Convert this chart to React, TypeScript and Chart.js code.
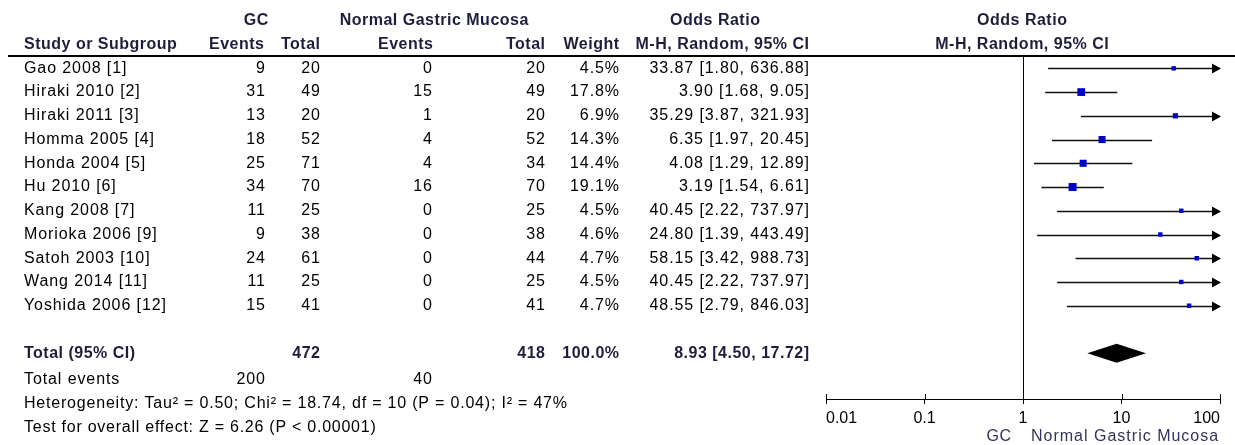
import React, { useEffect, useRef } from "react";
import { Chart, registerables } from "chart.js";

Chart.register(...registerables);

// ---- data ----
const studies = [
  "Gao 2008 [1]",
  "Hiraki 2010 [2]",
  "Hiraki 2011 [3]",
  "Homma 2005 [4]",
  "Honda 2004 [5]",
  "Hu 2010 [6]",
  "Kang 2008 [7]",
  "Morioka 2006 [9]",
  "Satoh 2003 [10]",
  "Wang 2014 [11]",
  "Yoshida 2006 [12]",
];
const gcEvents = [9, 31, 13, 18, 25, 34, 11, 9, 24, 11, 15];
const gcTotal = [20, 49, 20, 52, 71, 70, 25, 38, 61, 25, 41];
const ngmEvents = [0, 15, 1, 4, 4, 16, 0, 0, 0, 0, 0];
const ngmTotal = [20, 49, 20, 52, 34, 70, 25, 38, 44, 25, 41];
const weights = [4.5, 17.8, 6.9, 14.3, 14.4, 19.1, 4.5, 4.6, 4.7, 4.5, 4.7];
const oddsRatio = [33.87, 3.9, 35.29, 6.35, 4.08, 3.19, 40.45, 24.8, 58.15, 40.45, 48.55];
const ciLow = [1.8, 1.68, 3.87, 1.97, 1.29, 1.54, 2.22, 1.39, 3.42, 2.22, 2.79];
const ciHigh = [636.88, 9.05, 321.93, 20.45, 12.89, 6.61, 737.97, 443.49, 988.73, 737.97, 846.03];

const totalLabel = "Total (95% CI)";
const totalGcN = 472;
const totalNgmN = 418;
const totalWeight = 100.0;
const totalOR = [8.93, 4.5, 17.72]; // estimate, low, high
const totalEvents = [200, 40];
const heterogeneityText =
  "Heterogeneity: Tau\u00B2 = 0.50; Chi\u00B2 = 18.74, df = 10 (P = 0.04); I\u00B2 = 47%";
const overallText = "Test for overall effect: Z = 6.26 (P < 0.00001)";

const tickValues = [0.01, 0.1, 1, 10, 100];
const tickLabels = ["0.01", "0.1", "1", "10", "100"];
const favoursLeft = "GC";
const favoursRight = "Normal Gastric Mucosa";

const FONT = '"Liberation Sans", Arial, sans-serif';

function fmt2(v: number) {
  return v.toFixed(2);
}

const forestPlugin = {
  id: "forest",
  beforeDatasetsDraw(chart: any) {
    const { ctx, chartArea } = chart;
    const xs = chart.scales.x;
    const ys = chart.scales.y;
    ctx.save();
    // header rule
    ctx.strokeStyle = "#000";
    ctx.lineWidth = 2;
    ctx.beginPath();
    ctx.moveTo(8, chartArea.top);
    ctx.lineTo(1235, chartArea.top);
    ctx.stroke();
    // line of no effect
    const x1 = Math.round(xs.getPixelForValue(1)) + 0.5;
    ctx.lineWidth = 1;
    ctx.strokeStyle = "#000";
    ctx.beginPath();
    ctx.moveTo(x1, chartArea.top);
    ctx.lineTo(x1, chartArea.bottom);
    ctx.stroke();
    // upward tick halves
    tickValues.forEach((v) => {
      const px = Math.round(xs.getPixelForValue(v)) + 0.5;
      ctx.beginPath();
      ctx.moveTo(px, chartArea.bottom - 5);
      ctx.lineTo(px, chartArea.bottom);
      ctx.stroke();
    });
    // CIs
    const maxV = xs.max;
    const minV = xs.min;
    ctx.lineWidth = 1.5;
    ctx.strokeStyle = "#111";
    ctx.fillStyle = "#000";
    studies.forEach((_, i) => {
      const y = Math.round(ys.getPixelForValue(i)) + 0.5;
      const lo = xs.getPixelForValue(Math.max(ciLow[i], minV));
      const hiClipped = ciHigh[i] > maxV;
      const hi = xs.getPixelForValue(Math.min(ciHigh[i], maxV));
      ctx.beginPath();
      ctx.moveTo(lo, y);
      ctx.lineTo(hiClipped ? hi - 6 : hi, y);
      ctx.stroke();
      if (hiClipped) {
        ctx.beginPath();
        ctx.moveTo(hi + 1, y);
        ctx.lineTo(hi - 8, y - 5);
        ctx.lineTo(hi - 8, y + 5);
        ctx.closePath();
        ctx.fill();
      }
    });
    // diamond
    const yT = ys.getPixelForValue(12);
    const dl = xs.getPixelForValue(totalOR[1]);
    const dc = xs.getPixelForValue(totalOR[0]);
    const dr = xs.getPixelForValue(totalOR[2]);
    ctx.beginPath();
    ctx.moveTo(dl, yT);
    ctx.lineTo(dc, yT - 9.5);
    ctx.lineTo(dr, yT);
    ctx.lineTo(dc, yT + 9.5);
    ctx.closePath();
    ctx.fill();
    ctx.restore();
  },
  afterDraw(chart: any) {
    const { ctx } = chart;
    const ys = chart.scales.y;
    const xs = chart.scales.x;
    ctx.save();
    ctx.textBaseline = "middle";
    const SP = 0.9;
    const text = (s: string, x: number, y: number, align: string, bold = false, color = "#000", sp = SP) => {
      ctx.font = `${bold ? "bold " : ""}16px ${FONT}`;
      ctx.fillStyle = color;
      (ctx as any).letterSpacing = `${sp}px`;
      if (align === "right") {
        ctx.textAlign = "right";
        ctx.fillText(s, x + sp, y);
      } else if (align === "center") {
        ctx.textAlign = "center";
        ctx.fillText(s, x + sp / 2, y);
      } else {
        ctx.textAlign = "left";
        ctx.fillText(s, x, y);
      }
    };
    const HC = "#1e1e3c";
    // headers
    const h1 = 21;
    const h2 = 45;
    text("GC", 256, h1, "center", true, HC, 0.5);
    text("Normal Gastric Mucosa", 434, h1, "center", true, HC, 0.5);
    text("Odds Ratio", 715, h1, "center", true, HC, 0.5);
    text("Odds Ratio", 1022, h1, "center", true, HC, 0.5);
    text("Study or Subgroup", 24, h2, "left", true, HC, 0.5);
    text("Events", 264, h2, "right", true, HC, 0.5);
    text("Total", 320, h2, "right", true, HC, 0.5);
    text("Events", 433, h2, "right", true, HC, 0.5);
    text("Total", 545, h2, "right", true, HC, 0.5);
    text("Weight", 619, h2, "right", true, HC, 0.5);
    text("M-H, Random, 95% CI", 809, h2, "right", true, HC, 0.5);
    text("M-H, Random, 95% CI", 1022, h2, "center", true, HC, 0.5);

    // rows
    studies.forEach((name, i) => {
      const y = ys.getPixelForValue(i);
      text(name, 24, y, "left");
      text(String(gcEvents[i]), 265, y, "right");
      text(String(gcTotal[i]), 320, y, "right");
      text(String(ngmEvents[i]), 432, y, "right");
      text(String(ngmTotal[i]), 545, y, "right");
      text(weights[i].toFixed(1) + "%", 619, y, "right");
      text(`${fmt2(oddsRatio[i])} [${fmt2(ciLow[i])}, ${fmt2(ciHigh[i])}]`, 809, y, "right");
    });
    const yT = ys.getPixelForValue(12);
    text(totalLabel, 24, yT, "left", true, HC, 0.5);
    text(String(totalGcN), 320, yT, "right", true, HC, 0.5);
    text(String(totalNgmN), 545, yT, "right", true, HC, 0.5);
    text(totalWeight.toFixed(1) + "%", 619, yT, "right", true, HC, 0.5);
    text(`${fmt2(totalOR[0])} [${fmt2(totalOR[1])}, ${fmt2(totalOR[2])}]`, 809, yT, "right", true, HC, 0.5);

    const yE = ys.getPixelForValue(13.1);
    text("Total events", 24, yE, "left");
    text(String(totalEvents[0]), 265, yE, "right");
    text(String(totalEvents[1]), 432, yE, "right");
    text(heterogeneityText, 24, ys.getPixelForValue(14.12), "left", false, "#000", 0.8);
    text(overallText, 24, ys.getPixelForValue(15.12), "left", false, "#000", 0.75);

    // favours labels
    const x1 = xs.getPixelForValue(1);
    text(favoursLeft, x1 - 12, 437, "right", false, "#33335a", 0.5);
    text(favoursRight, x1 + 8, 437, "left", false, "#33335a", 1.0);
    ctx.restore();
  },
};

export default function App() {
  const ref = useRef<HTMLCanvasElement | null>(null);
  useEffect(() => {
    document.body.style.margin = "0";
    const canvas = ref.current!;
    const chart = new Chart(canvas, {
      type: "scatter",
      data: {
        datasets: [
          {
            data: studies.map((_, i) => ({ x: oddsRatio[i], y: i })),
            backgroundColor: "#0000c8",
            borderWidth: 0,
            pointStyle: "rect",
            pointRadius: weights.map((w) => (1 + 7 * Math.sqrt(w / 19.1)) / Math.SQRT2),
            pointHoverRadius: weights.map((w) => (1 + 7 * Math.sqrt(w / 19.1)) / Math.SQRT2),
          },
        ],
      },
      options: {
        animation: false,
        responsive: false,
        devicePixelRatio: 1,
        events: [],
        layout: { padding: { left: 826, right: 15, top: 56, bottom: 0 } },
        plugins: { legend: { display: false }, tooltip: { enabled: false } },
        scales: {
          x: {
            type: "logarithmic",
            min: 0.01,
            max: 100,
            position: "bottom",
            afterBuildTicks: (scale: any) => {
              scale.ticks = tickValues.map((v) => ({ value: v }));
            },
            afterFit: (scale: any) => {
              scale.height = 46;
            },
            border: { display: true, color: "#000", width: 1 },
            grid: {
              drawOnChartArea: false,
              drawTicks: true,
              tickLength: 5,
              tickColor: "#000",
              color: "#000",
            },
            ticks: {
              autoSkip: false,
              maxRotation: 0,
              align: "inner",
              padding: 5,
              color: "#000",
              font: { family: FONT, size: 16 },
              callback: (_v: any, i: number) => tickLabels[i],
            },
          },
          y: {
            type: "linear",
            reverse: true,
            min: -0.52,
            max: 13.93,
            display: false,
          },
        },
      },
      plugins: [forestPlugin],
    } as any);
    return () => chart.destroy();
  }, []);
  return <canvas ref={ref} width={1235} height={445} style={{ display: "block", width: 1235, height: 445 }} />;
}
